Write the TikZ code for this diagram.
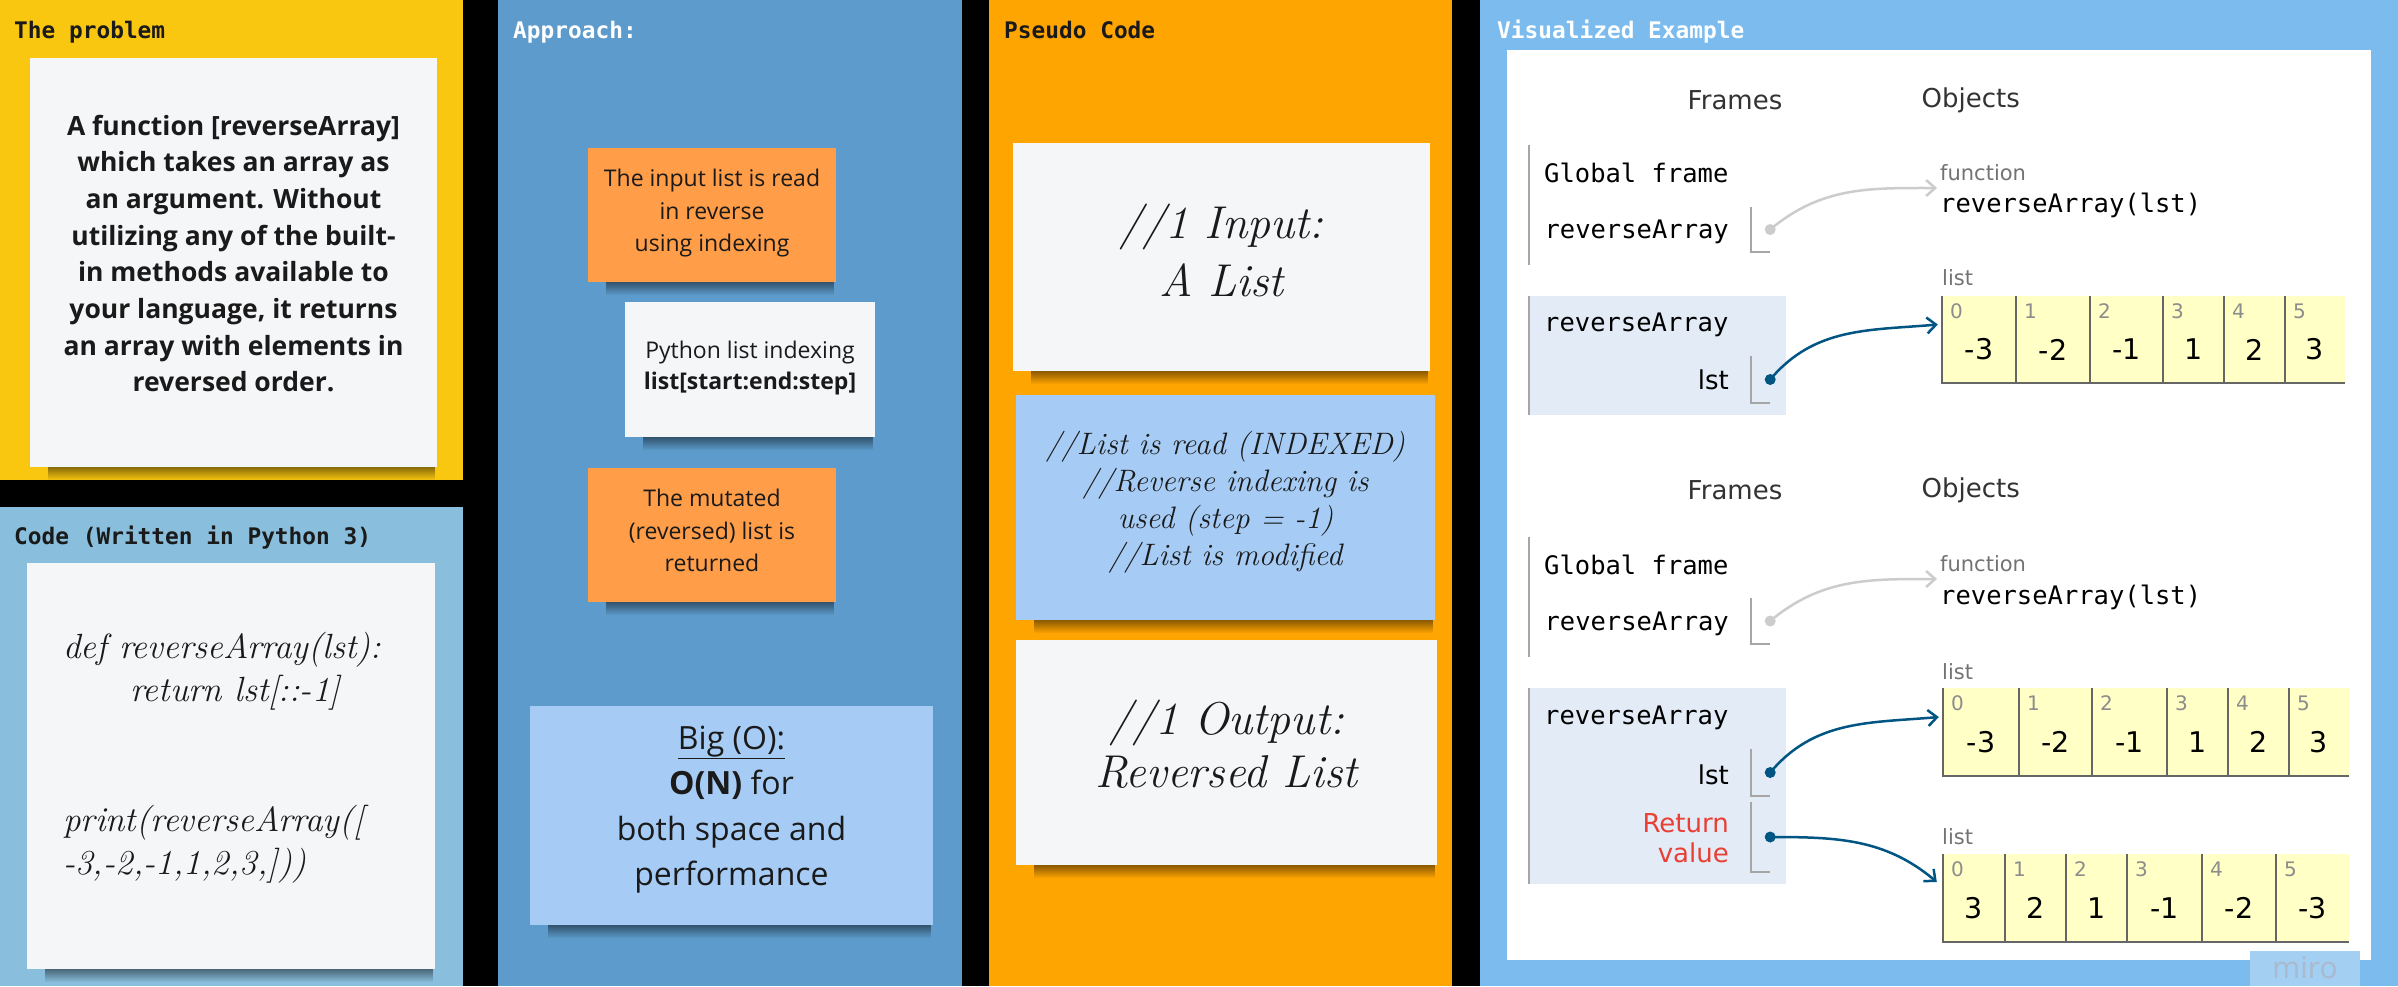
\documentclass[tikz,border=0pt]{standalone}
\usepackage{fontspec}
\setsansfont{Open Sans}
\newfontfamily\labelfont{DejaVu Sans Mono}
\newfontfamily\tutorsans{DejaVu Sans}
\newfontfamily\tutormono{DejaVu Sans Mono}
\usetikzlibrary{arrows.meta,positioning,fadings}

\definecolor{probyellow}{RGB}{250,199,16}
\definecolor{codeblue}{RGB}{137,190,220}
\definecolor{approachblue}{RGB}{92,155,203}
\definecolor{pseudoorange}{RGB}{255,165,2}
\definecolor{visualblue}{RGB}{123,187,237}
\definecolor{stickyorange}{RGB}{255,157,72}
\definecolor{stickywhite}{RGB}{245,246,248}
\definecolor{stickyblue}{RGB}{166,204,245}
\definecolor{inkdark}{RGB}{26,26,26}
\definecolor{framebg}{RGB}{226,235,246}
\definecolor{cellyellow}{RGB}{255,255,198}
\definecolor{ptrblue}{RGB}{0,85,131}
\definecolor{ptrgray}{RGB}{204,204,204}
\definecolor{retred}{RGB}{233,63,52}
\definecolor{mirogray}{RGB}{170,186,206}

\newcommand\setfs[2]{\fontsize{#1}{#2}\selectfont}
\newcommand\handfont{\rmfamily\itshape}

\tikzfading[name=stickyfade,top color=transparent!0,bottom color=transparent!100]

\tikzset{
  paneltitle/.style={anchor=west,inner sep=0pt,text=inkdark,font=\labelfont\bfseries\setfs{22.8}{26}},
  sticky/.style={fill=#1,inner sep=0pt,
    append after command={\pgfextra{\fill[black,opacity=.45,path fading=stickyfade]
      ([xshift=18pt]\tikzlastnode.south west) rectangle ([xshift=-2pt,yshift=-13pt]\tikzlastnode.south east);}}},
  stickytext/.style={inner sep=0pt,align=center,text=inkdark},
  hdr/.style={inner sep=0pt,text=black!80,font=\tutorsans\setfs{26}{30}},
  monolbl/.style={anchor=west,inner sep=0pt,font=\tutormono\setfs{25.5}{30}},
  varlbl/.style={anchor=east,inner sep=0pt,font=\tutorsans\setfs{26}{30}},
  typelbl/.style={anchor=west,inner sep=0pt,text=black!55,font=\tutorsans\setfs{21}{24}},
  stackframe/.style={minimum width=257,inner sep=0pt},
  varbox/.style={minimum width=19,inner sep=0pt},
  tutorrule/.style={draw=black!35,line width=1.5pt},
  ptrdot/.style={circle,fill=#1,inner sep=0pt,minimum size=11},
  ptr/.style={draw=#1,line width=2.5pt,-{Straight Barb[length=9pt,width=16pt]}},
  cell/.style={fill=cellyellow,inner sep=0pt},
  cellrule/.style={draw=black!60,line width=2pt},
  idx/.style={anchor=north west,inner sep=0pt,xshift=8pt,yshift=-8pt,text=black!45,font=\tutorsans\setfs{20}{22}},
  val/.style={inner sep=0pt,yshift=-10pt,font=\tutorsans\setfs{28.5}{30}},
}

\begin{document}
\begin{tikzpicture}[x=1pt,y=1pt]
\useasboundingbox (0,0) rectangle (2398,-986);
\fill[black] (0,0) rectangle (2398,-986);
\fill[probyellow] (0,0) rectangle (463,-480);
\fill[codeblue] (0,-507) rectangle (463,-986);
\fill[approachblue] (498,0) rectangle (962,-986);
\fill[pseudoorange] (989,0) rectangle (1452,-986);
\fill[visualblue] (1480,0) rectangle (2398,-986);
\fill[white] (1507,-50) rectangle (2371,-960);

\node[paneltitle] (probtitle) at (14,-32) {The problem};
\node[paneltitle] (codetitle) at (14,-538) {Code (Written in Python 3)};
\node[paneltitle,text=white] (apprtitle) at (513,-32) {Approach:};
\node[paneltitle] (pseudotitle) at (1004,-30) {Pseudo Code};
\node[paneltitle,text=white] (vistitle) at (1497,-32) {Visualized Example};

\node[sticky=stickywhite,minimum width=407,minimum height=409] (prob) at (233.5,-262.5) {};
\node[stickytext,font=\sffamily\bfseries\setfs{26.5}{36.7}] (probtxt) at ([yshift=9pt]prob.center)
  {A function [reverseArray]\\which takes an array as\\an argument. Without\\utilizing any of the built-\\in methods available to\\your language, it returns\\an array with elements in\\reversed order.};

\node[sticky=stickywhite,minimum width=408,minimum height=406] (code) at (231,-766) {};
\node[anchor=north west,inner sep=0pt,align=left,text=inkdark,font=\handfont\setfs{35}{43}] (codetxt) at (63,-632)
  {def reverseArray(lst):\\\hspace*{67pt}return lst[::-1]\\[87pt]print(reverseArray([\\-3,-2,-1,1,2,3,]))};

\node[sticky=stickyorange,minimum width=248,minimum height=134] (readrev) at (712,-215) {};
\node[stickytext,font=\sffamily\setfs{23}{32.5}] (readrevtxt) at ([yshift=1.5pt]readrev.center) {The input list is read\\in reverse\\using indexing};
\node[sticky=stickywhite,minimum width=250,minimum height=135] (slicing) at (750,-369.5) {};
\node[stickytext,font=\sffamily\setfs{23}{31}] (slicingtxt) at ([yshift=1.5pt]slicing.center) {Python list indexing\\\textbf{list[start:end:step]}};
\node[sticky=stickyorange,minimum width=248,minimum height=134] (retrev) at (712,-535) {};
\node[stickytext,font=\sffamily\setfs{23}{32.5}] (retrevtxt) at ([yshift=4.5pt]retrev.center) {The mutated\\(reversed) list is\\returned};
\node[sticky=stickyblue,minimum width=403,minimum height=219] (bigo) at (731.5,-815.5) {};
\node[stickytext,font=\sffamily\setfs{32}{45.6}] (bigotxt) at ([yshift=6pt]bigo.center) {\underline{Big (O):}\\\textbf{O(N)} for\\both space and\\performance};

\node[sticky=stickywhite,minimum width=417,minimum height=228] (pin) at (1221.5,-257) {};
\node[stickytext,font=\handfont\setfs{46}{58}] (pintxt) at ([yshift=7pt]pin.center) {//1 Input:\\A List};
\node[sticky=stickyblue,minimum width=419,minimum height=225] (psteps) at (1225.5,-507.5) {};
\node[stickytext,font=\handfont\setfs{31}{37}] (pstepstxt) at ([yshift=5pt]psteps.center) {//List is read (INDEXED)\\//Reverse indexing is\\used (step = -1)\\//List is modified};
\node[sticky=stickywhite,minimum width=421,minimum height=225] (pout) at (1226.5,-752.5) {};
\node[stickytext,font=\handfont\setfs{46}{53}] (pouttxt) at ([yshift=8pt]pout.center) {//1 Output:\\Reversed List};

\node[hdr] (fr1) at (1735,-100) {Frames};
\node[hdr,right=139pt of fr1] (ob1) {Objects};
\node[stackframe,minimum height=120] (gf1) at (1657.5,-205) {};
\draw[tutorrule] (gf1.north west) -- (gf1.south west);
\node[monolbl] (gfl1) at (1544,-173) {Global frame};
\node[monolbl,anchor=east] (gfn1) at (1729,-232) {reverseArray};
\node[varbox,minimum height=45] (gv1) at (1760.5,-229.5) {};
\draw[tutorrule] (gv1.north west) |- (gv1.south east);
\node[ptrdot=ptrgray] (gd1) at (gv1.east) {};
\node[stackframe,fill=framebg,minimum height=119] (rf1) at (1657.5,-355.5) {};
\draw[tutorrule] (rf1.north west) -- (rf1.south west);
\node[monolbl] (rfl1) at (1544,-325) {reverseArray};
\node[varlbl] (lstn1) at (1729,-380) {lst};
\node[varbox,minimum height=47] (lv1) at (1760.5,-379.5) {};
\draw[tutorrule] (lv1.north west) |- (lv1.south east);
\node[ptrdot=ptrblue] (ld1) at (lv1.east) {};
\node[typelbl] (fnt1) at (1940,-173) {function};
\node[monolbl] (fns1) at (1940,-205) {reverseArray(lst)};
\coordinate (fnin1) at (1937,-188);
\node[typelbl] (lt1) at (1942,-278) {list};
\foreach \xl/\xr/\v [count=\i from 0] in {1942/2016/-3,2016/2090/-2,2090/2163/-1,2163/2224/1,2224/2285/2,2285/2345/3}{
  \node[cell,minimum width=\xr-\xl,minimum height=87,label={[idx]north west:\i},label={[val]center:\v}] (a\i) at ({(\xl+\xr)/2},-339.5) {};
  \draw[cellrule] (a\i.north west) -- (a\i.south west) -- (a\i.south east);
}
\draw[ptr=ptrgray] (gd1.center) to[out=40,in=180] (fnin1);
\draw[ptr=ptrblue] (ld1.center) to[out=50,in=185] ([xshift=-4pt,yshift=15pt]a0.west);

\node[hdr] (fr2) at (1735,-490) {Frames};
\node[hdr,right=139pt of fr2] (ob2) {Objects};
\node[stackframe,minimum height=120] (gf2) at (1657.5,-597) {};
\draw[tutorrule] (gf2.north west) -- (gf2.south west);
\node[monolbl] (gfl2) at (1544,-565) {Global frame};
\node[monolbl,anchor=east] (gfn2) at (1729,-624) {reverseArray};
\node[varbox,minimum height=46] (gv2) at (1760.5,-621) {};
\draw[tutorrule] (gv2.north west) |- (gv2.south east);
\node[ptrdot=ptrgray] (gd2) at (gv2.east) {};
\node[stackframe,fill=framebg,minimum height=196] (rf2) at (1657.5,-786) {};
\draw[tutorrule] (rf2.north west) -- (rf2.south west);
\node[monolbl] (rfl2) at (1544,-718) {reverseArray};
\node[varlbl] (lstn2) at (1729,-775) {lst};
\node[varbox,minimum height=47] (lv2) at (1760.5,-772.5) {};
\draw[tutorrule] (lv2.north west) |- (lv2.south east);
\node[ptrdot=ptrblue] (ld2) at (lv2.east) {};
\node[varlbl,text=retred,align=right] (retn2) at (1729,-838) {Return\\value};
\node[varbox,minimum height=70] (rv2) at (1760.5,-837) {};
\draw[tutorrule] (rv2.north west) |- (rv2.south east);
\node[ptrdot=ptrblue] (rd2) at (rv2.east) {};
\node[typelbl] (fnt2) at (1940,-564) {function};
\node[monolbl] (fns2) at (1940,-597) {reverseArray(lst)};
\coordinate (fnin2) at (1937,-579);
\node[typelbl] (lt2) at (1942,-672) {list};
\foreach \xl/\xr/\v [count=\i from 0] in {1943/2019/-3,2019/2092/-2,2092/2167/-1,2167/2228/1,2228/2289/2,2289/2349/3}{
  \node[cell,minimum width=\xr-\xl,minimum height=88,label={[idx]north west:\i},label={[val]center:\v}] (b\i) at ({(\xl+\xr)/2},-732) {};
  \draw[cellrule] (b\i.north west) -- (b\i.south west) -- (b\i.south east);
}
\node[typelbl] (lt3) at (1942,-837) {list};
\foreach \xl/\xr/\v [count=\i from 0] in {1943/2005/3,2005/2066/2,2066/2127/1,2127/2202/-1,2202/2276/-2,2276/2349/-3}{
  \node[cell,minimum width=\xr-\xl,minimum height=88,label={[idx]north west:\i},label={[val]center:\v}] (c\i) at ({(\xl+\xr)/2},-898) {};
  \draw[cellrule] (c\i.north west) -- (c\i.south west) -- (c\i.south east);
}
\draw[ptr=ptrgray] (gd2.center) to[out=40,in=180] (fnin2);
\draw[ptr=ptrblue] (ld2.center) to[out=50,in=185] ([xshift=-4pt,yshift=15pt]b0.west);
\draw[ptr=ptrblue] (rd2.center) to[out=0,in=140] ([xshift=-6pt,yshift=16pt]c0.west);

\fill[visualblue!70!white] (2250,-951) rectangle (2360,-986);
\node[text=mirogray,inner sep=0pt,font=\sffamily\setfs{30}{32}] (miro) at (2305,-968) {miro};
\end{tikzpicture}
\end{document}
